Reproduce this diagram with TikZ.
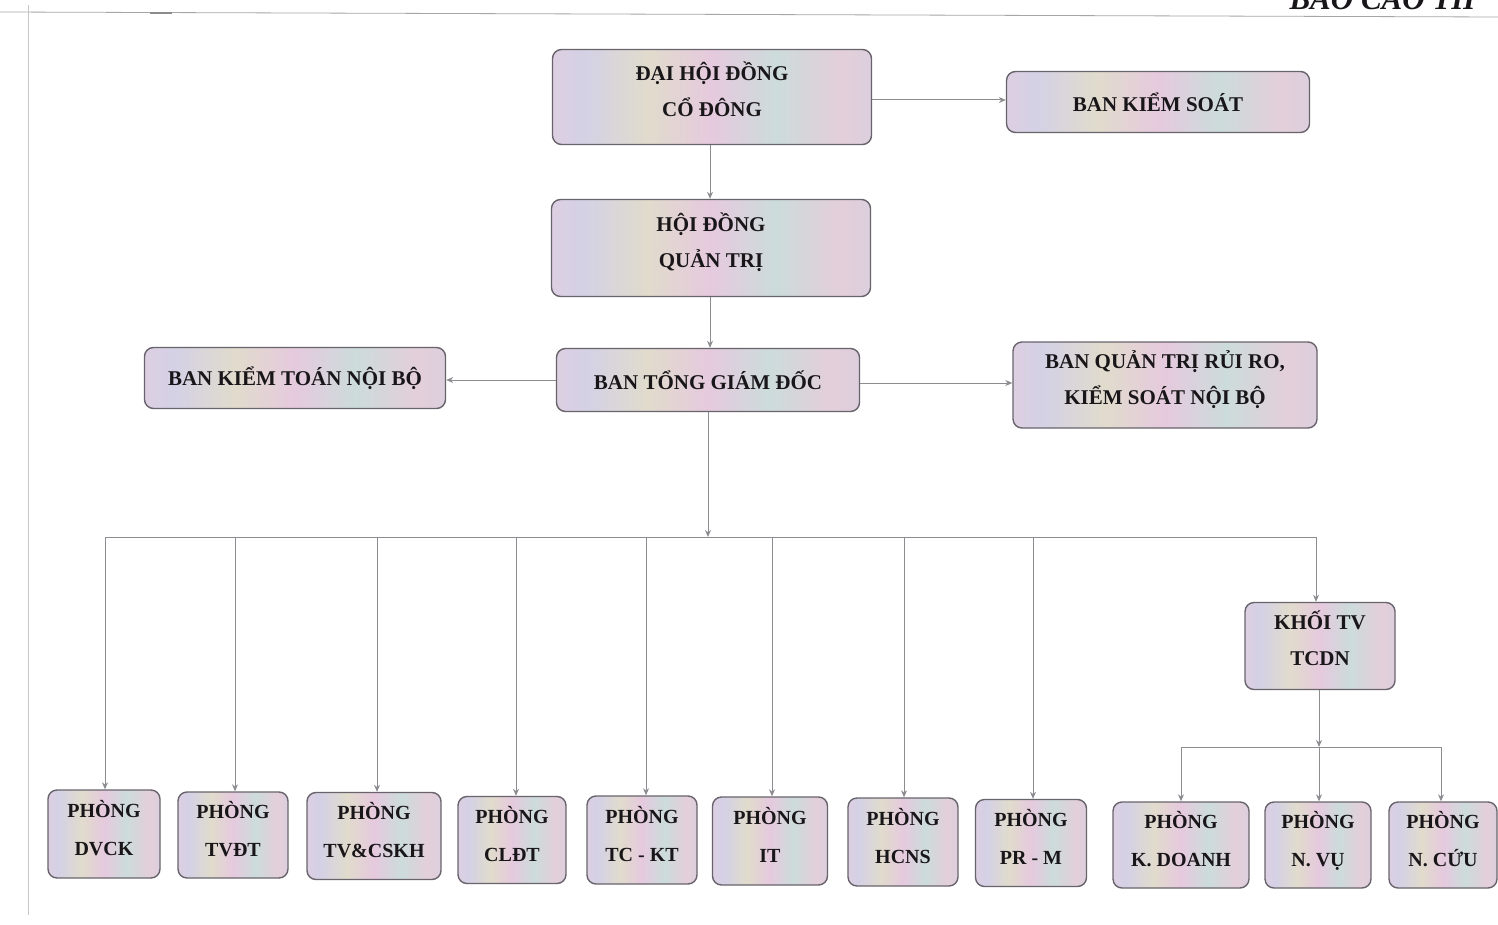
\documentclass[tikz,border=0pt]{standalone}
\usepackage{fontspec}
\setmainfont{Liberation Serif}
\usetikzlibrary{arrows.meta}
\pgfdeclarehorizontalshading{irid}{100bp}{%
 rgb(0bp)=(0.85,0.80,0.85);
 rgb(10bp)=(0.83,0.87,0.84);
 rgb(20bp)=(0.90,0.80,0.87);
 rgb(30bp)=(0.83,0.82,0.90);
 rgb(40bp)=(0.88,0.86,0.80);
 rgb(50bp)=(0.90,0.79,0.87);
 rgb(60bp)=(0.80,0.86,0.86);
 rgb(70bp)=(0.89,0.81,0.85);
 rgb(80bp)=(0.84,0.81,0.89);
 rgb(90bp)=(0.87,0.86,0.82);
 rgb(100bp)=(0.85,0.80,0.85)}
\definecolor{edgegray}{RGB}{140,140,145}
\definecolor{bordergray}{RGB}{105,100,108}
\definecolor{inkc}{RGB}{25,22,25}
\newcommand\lowtop{\rule[-15pt]{0pt}{0pt}}
\newcommand\lowbot{\rule[-12pt]{0pt}{0pt}}
\tikzset{
 box/.style={draw=bordergray, line width=1.4pt, rounded corners=9pt, shading=irid,
   align=center, inner sep=0pt, text=inkc, font=\fontsize{21}{36}\selectfont\bfseries},
 lowbox/.style={box, font=\fontsize{20}{38}\selectfont\bfseries},
 arr/.style={draw=edgegray, line width=1pt, -{Stealth[length=7pt,width=6pt]}},
 ln/.style={draw=edgegray, line width=1pt}
}
\begin{document}
\begin{tikzpicture}[x=1pt,y=-1pt]
\useasboundingbox (0,0) rectangle (1498,925);
\fill[white] (0,0) rectangle (1498,925);
\begin{scope}
\clip (0,0) rectangle (1498,925);
\node[anchor=base west, font=\fontsize{31}{31}\selectfont\bfseries\itshape, text=inkc] (hdr) at (1286,10) {BÁO CÁO TH};
\draw[gray!70, line width=0.8pt] (0,12) -- (1498,17);
\draw[gray!90, line width=1.6pt] (150,13) -- (172,13);
\draw[gray!45, line width=0.8pt] (28,5) -- (28,915);
\end{scope}

% top level
\node[box, minimum width=319pt, minimum height=95pt] (dhd) at (712,97) {ĐẠI HỘI ĐỒNG\\CỔ ĐÔNG\lowtop};
\node[box, minimum width=303pt, minimum height=61pt] (bks) at (1158,102) {BAN KIỂM SOÁT};
\node[box, minimum width=319pt, minimum height=97pt] (hdqt) at (711,248) {HỘI ĐỒNG\\QUẢN TRỊ\lowtop};
\node[box, minimum width=303pt, minimum height=63pt] (btgd) at (708,380) {BAN TỔNG GIÁM ĐỐC};
\node[box, minimum width=301pt, minimum height=61pt] (bktnb) at (295,378) {BAN KIỂM TOÁN NỘI BỘ};
\node[box, minimum width=304pt, minimum height=86pt] (bqtrr) at (1165,385) {BAN QUẢN TRỊ RỦI RO,\\KIỂM SOÁT NỘI BỘ\lowtop};
\node[box, minimum width=150pt, minimum height=87pt] (khoi) at (1320,646) {KHỐI TV\\TCDN\lowtop};

% bottom row
\node[lowbox, minimum width=112pt, minimum height=88pt] (dvck) at (104,834) {PHÒNG\\DVCK\lowbot};
\node[lowbox, minimum width=110pt, minimum height=86pt] (tvdt) at (233,835) {PHÒNG\\TVĐT\lowbot};
\node[lowbox, minimum width=134pt, minimum height=87pt] (tvcskh) at (374,836) {PHÒNG\\TV\&CSKH\lowbot};
\node[lowbox, minimum width=108pt, minimum height=87pt] (cldt) at (512,840) {PHÒNG\\CLĐT\lowbot};
\node[lowbox, minimum width=110pt, minimum height=88pt] (tckt) at (642,840) {PHÒNG\\TC - KT\lowbot};
\node[lowbox, minimum width=115pt, minimum height=88pt] (it) at (770,841) {PHÒNG\\IT\lowbot};
\node[lowbox, minimum width=110pt, minimum height=88pt] (hcns) at (903,842) {PHÒNG\\HCNS\lowbot};
\node[lowbox, minimum width=111pt, minimum height=87pt] (prm) at (1031,843) {PHÒNG\\PR - M\lowbot};
\node[lowbox, minimum width=136pt, minimum height=86pt] (kdoanh) at (1181,845) {PHÒNG\\K. DOANH\lowbot};
\node[lowbox, minimum width=106pt, minimum height=86pt] (nvu) at (1318,845) {PHÒNG\\N. VỤ\lowbot};
\node[lowbox, minimum width=108pt, minimum height=86pt] (ncuu) at (1443,845) {PHÒNG\\N. CỨU\lowbot};

% connectors top
\draw[arr] (dhd.east |- 0,100) -- (bks.west |- 0,100);
\draw[arr] (dhd.south -| 710,0) -- (hdqt.north -| 710,0);
\draw[arr] (hdqt.south -| 710,0) -- (btgd.north -| 710,0);
\draw[arr] (btgd.west |- 0,380) -- (bktnb.east |- 0,380);
\draw[arr] (btgd.east |- 0,383) -- (bqtrr.west |- 0,383);

% main bus
\coordinate (busL) at (105,537);
\coordinate (busR) at (1316,537);
\coordinate (busM) at (708,537);
\draw[arr] (btgd.south -| busM) -- (busM);
\draw[ln] (busL) -- (busR);
\foreach \n/\x in {dvck/105,tvdt/235,tvcskh/377,cldt/516,tckt/646,it/772,hcns/904,prm/1033}{
  \draw[arr] (\x,537) -- (\n.north -| \x,0);
}
\draw[arr] (busR) -- (khoi.north -| busR);

% second bus
\coordinate (bus2M) at (1319,747);
\coordinate (bus2L) at (1181,747);
\coordinate (bus2R) at (1441,747);
\draw[arr] (khoi.south -| bus2M) -- (bus2M);
\draw[ln] (bus2L) -- (bus2R);
\draw[arr] (bus2L) -- (kdoanh.north -| bus2L);
\draw[arr] (bus2M) -- (nvu.north -| bus2M);
\draw[arr] (bus2R) -- (ncuu.north -| bus2R);
\end{tikzpicture}
\end{document}
